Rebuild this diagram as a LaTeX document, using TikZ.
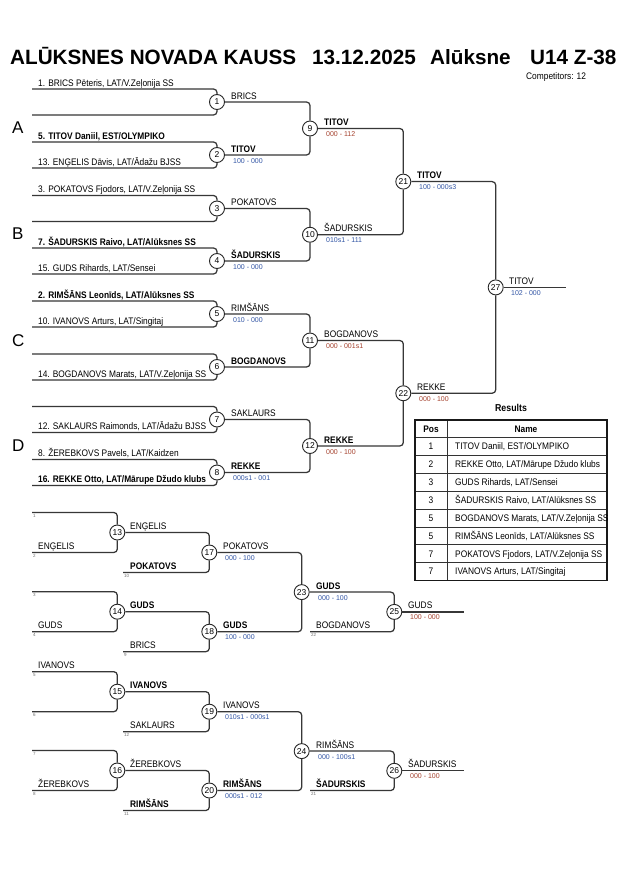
\documentclass[tikz,border=0pt]{standalone}
\usepackage{fontspec}
\setmainfont{Liberation Sans}
\newfontfamily\nf[FakeStretch=0.88]{Liberation Sans}
\definecolor{scblue}{RGB}{50,85,165}
\definecolor{scred}{RGB}{165,65,45}
\definecolor{lncol}{RGB}{55,55,55}
\tikzset{
  ln/.style={line width=1.25pt, draw=lncol, rounded corners=3.5pt},
  mc/.style={circle, draw=black!85, line width=0.9pt, fill=white, minimum size=15pt, inner sep=0pt, font=\fontsize{8.5}{8.5}\selectfont},
  nm/.style={anchor=base west, inner sep=0pt, font=\nf\fontsize{9.5}{10}\selectfont},
  nmb/.style={anchor=base west, inner sep=0pt, font=\nf\bfseries\fontsize{9.5}{10}\selectfont},
  sc/.style={anchor=base west, inner sep=0pt, font=\fontsize{7}{7.5}\selectfont},
  scb/.style={sc, text=scblue},
  scr/.style={sc, text=scred},
  tinyno/.style={anchor=north west, inner sep=0pt, font=\fontsize{4.5}{5}\selectfont, text=black!55},
  ttl/.style={anchor=base west, inner sep=0pt, font=\bfseries\fontsize{20.7}{22}\selectfont},
  pool/.style={anchor=base west, inner sep=0pt, font=\fontsize{17}{18}\selectfont},
  tbl/.style={anchor=base west, inner sep=0pt, font=\nf\fontsize{9.5}{10}\selectfont},
  tblc/.style={anchor=base, inner sep=0pt, font=\nf\fontsize{9.5}{10}\selectfont},
  tblh/.style={anchor=base, inner sep=0pt, font=\nf\bfseries\fontsize{9.5}{10}\selectfont},
}
\begin{document}
\begin{tikzpicture}[x=1pt,y=-1pt]
\useasboundingbox (0,0) rectangle (630,891);
\fill[white] (0,0) rectangle (630,891);

% ---------- title ----------
\node[ttl] (t1) at (10,64) {ALŪKSNES NOVADA KAUSS};
\node[ttl] (t2) at (312,64) {13.12.2025};
\node[ttl] (t3) at (430,64) {Alūksne};
\node[ttl] (t4) at (530,64) {U14 Z-38};
\node[anchor=base west, inner sep=0pt, font=\nf\fontsize{9.5}{10}\selectfont] (comp) at (526,79) {Competitors: 12};

% ---------- pools ----------
\node[pool] (pA) at (12,133.5) {A};
\node[pool] (pB) at (12,239) {B};
\node[pool] (pC) at (12,346) {C};
\node[pool] (pD) at (12,451) {D};

% ---------- main bracket circles ----------
\node[mc] (m1) at (217,102) {1};
\node[mc] (m2) at (217,155) {2};
\node[mc] (m3) at (217,208.5) {3};
\node[mc] (m4) at (217,261) {4};
\node[mc] (m5) at (217,314) {5};
\node[mc] (m6) at (217,367) {6};
\node[mc] (m7) at (217,419.5) {7};
\node[mc] (m8) at (217,472.5) {8};
\node[mc] (m9) at (310,128.5) {9};
\node[mc] (m10) at (310,234.75) {10};
\node[mc] (m11) at (310,340.5) {11};
\node[mc] (m12) at (310,446) {12};
\node[mc] (m21) at (403.3,181.6) {21};
\node[mc] (m22) at (403.3,393.25) {22};
\node[mc] (m27) at (495.7,287.4) {27};

% entry line starts
\coordinate (a1t) at (32,89);   \coordinate (a1b) at (32,115);
\coordinate (a2t) at (32,142);  \coordinate (a2b) at (32,168);
\coordinate (a3t) at (32,195.5);\coordinate (a3b) at (32,221.5);
\coordinate (a4t) at (32,248);  \coordinate (a4b) at (32,274);
\coordinate (a5t) at (32,301);  \coordinate (a5b) at (32,327);
\coordinate (a6t) at (32,354);  \coordinate (a6b) at (32,380);
\coordinate (a7t) at (32,406.5);\coordinate (a7b) at (32,432.5);
\coordinate (a8t) at (32,459.5);\coordinate (a8b) at (32,485.5);
\coordinate (e27) at (566,287.4);

\foreach \k in {1,...,8}{
  \draw[ln] (a\k t) -- (a\k t -| m\k) -- (m\k);
  \draw[ln] (a\k b) -- (a\k b -| m\k) -- (m\k);
}
\draw[ln] (m1) -- (m1 -| m9) -- (m9);
\draw[ln] (m2) -- (m2 -| m9) -- (m9);
\draw[ln] (m3) -- (m3 -| m10) -- (m10);
\draw[ln] (m4) -- (m4 -| m10) -- (m10);
\draw[ln] (m5) -- (m5 -| m11) -- (m11);
\draw[ln] (m6) -- (m6 -| m11) -- (m11);
\draw[ln] (m7) -- (m7 -| m12) -- (m12);
\draw[ln] (m8) -- (m8 -| m12) -- (m12);
\draw[ln] (m9) -- (m9 -| m21) -- (m21);
\draw[ln] (m10) -- (m10 -| m21) -- (m21);
\draw[ln] (m11) -- (m11 -| m22) -- (m22);
\draw[ln] (m12) -- (m12 -| m22) -- (m22);
\draw[ln] (m21) -- (m21 -| m27) -- (m27);
\draw[ln] (m22) -- (m22 -| m27) -- (m27);
\draw[ln] (m27) -- (e27);

% entry names
\node[nm]  (n1t) at (38,86)    {1. BRICS Pēteris, LAT/V.Zeļonija SS};
\node[nmb] (n2t) at (38,139)   {5. TITOV Daniil, EST/OLYMPIKO};
\node[nm]  (n2b) at (38,165)   {13. ENĢELIS Dāvis, LAT/Ādažu BJSS};
\node[nm]  (n3t) at (38,192.5) {3. POKATOVS Fjodors, LAT/V.Zeļonija SS};
\node[nmb] (n4t) at (38,245)   {7. ŠADURSKIS Raivo, LAT/Alūksnes SS};
\node[nm]  (n4b) at (38,271)   {15. GUDS Rihards, LAT/Sensei};
\node[nmb] (n5t) at (38,298)   {2. RIMŠĀNS Leonīds, LAT/Alūksnes SS};
\node[nm]  (n5b) at (38,324)   {10. IVANOVS Arturs, LAT/Singitaj};
\node[nm]  (n6b) at (38,377)   {14. BOGDANOVS Marats, LAT/V.Zeļonija SS};
\node[nm]  (n7b) at (38,429.5) {12. SAKLAURS Raimonds, LAT/Ādažu BJSS};
\node[nm]  (n8t) at (38,456.5) {8. ŽEREBKOVS Pavels, LAT/Kaidzen};
\node[nmb] (n8b) at (38,482.5) {16. REKKE Otto, LAT/Mārupe Džudo klubs};

% winners round 1
\node[nm]  (w1) at (231,99)    {BRICS};
\node[nmb] (w2) at (231,152)   {TITOV};
\node[scb] (s2) at (233,163)   {100 - 000};
\node[nm]  (w3) at (231,205.5) {POKATOVS};
\node[nmb] (w4) at (231,258)   {ŠADURSKIS};
\node[scb] (s4) at (233,269)   {100 - 000};
\node[nm]  (w5) at (231,311)   {RIMŠĀNS};
\node[scb] (s5) at (233,322)   {010 - 000};
\node[nmb] (w6) at (231,364)   {BOGDANOVS};
\node[nm]  (w7) at (231,416.5) {SAKLAURS};
\node[nmb] (w8) at (231,469.5) {REKKE};
\node[scb] (s8) at (233,480.5) {000s1 - 001};
% round 2
\node[nmb] (w9) at (324,125.5)  {TITOV};
\node[scr] (s9) at (326,136.5)  {000 - 112};
\node[nm]  (w10) at (324,231.75){ŠADURSKIS};
\node[scb] (s10) at (326,242.75){010s1 - 111};
\node[nm]  (w11) at (324,337.5) {BOGDANOVS};
\node[scr] (s11) at (326,348.5) {000 - 001s1};
\node[nmb] (w12) at (324,443)   {REKKE};
\node[scr] (s12) at (326,454)   {000 - 100};
% round 3
\node[nmb] (w21) at (417,178.6) {TITOV};
\node[scb] (s21) at (419,189.6) {100 - 000s3};
\node[nm]  (w22) at (417,390.25){REKKE};
\node[scr] (s22) at (419,401.25){000 - 100};
% final
\node[nm]  (w27) at (509,284.4) {TITOV};
\node[scb] (s27) at (511,295.4) {102 - 000};

% ---------- results table ----------
\node[anchor=base, inner sep=0pt, font=\nf\bfseries\fontsize{10}{11}\selectfont] (res) at (511,411) {Results};
\draw[line width=0.6pt, black!80] (447,420) -- (447,580.4);
\draw[line width=0.9pt, black!80] (415,437.5) -- (607,437.5);
\foreach \i in {1,...,7}{
  \draw[line width=0.6pt, black!80] (415,437.5+\i*17.86) -- (607,437.5+\i*17.86);
}
\draw[line width=1.5pt, black!90] (415,420) rectangle (607,580.4);
\node[tblh] (hp) at (431,432) {Pos};
\node[tblh] (hn) at (526,432) {Name};
\foreach \p/\t [count=\i] in {1/{TITOV Daniil, EST/OLYMPIKO},2/{REKKE Otto, LAT/Mārupe Džudo klubs},3/{GUDS Rihards, LAT/Sensei},3/{ŠADURSKIS Raivo, LAT/Alūksnes SS},5/{BOGDANOVS Marats, LAT/V.Zeļonija SS},5/{RIMŠĀNS Leonīds, LAT/Alūksnes SS},7/{POKATOVS Fjodors, LAT/V.Zeļonija SS},7/{IVANOVS Arturs, LAT/Singitaj}}{
  \node[tblc] (rp\i) at (431,437.5+\i*17.86-5.5) {\p};
  \node[tbl] (rn\i) at (455,437.5+\i*17.86-5.5) {\t};
}

% ---------- repechage ----------
\node[mc] (m13) at (117.3,532.5) {13};
\node[mc] (m14) at (117.3,611.7) {14};
\node[mc] (m17) at (209.3,552.5) {17};
\node[mc] (m18) at (209.3,631.7) {18};
\node[mc] (m23) at (301.7,592.1) {23};
\node[mc] (m25) at (394.3,611.9) {25};
\node[mc] (m15) at (117.3,691.7) {15};
\node[mc] (m16) at (117.3,770.5) {16};
\node[mc] (m19) at (209.3,711.7) {19};
\node[mc] (m20) at (209.3,790.5) {20};
\node[mc] (m24) at (301.7,751.1) {24};
\node[mc] (m26) at (394.3,770.8) {26};

\coordinate (r13t) at (32,512.5); \coordinate (r13b) at (32,552.5);
\coordinate (r17b) at (123,572.5);
\coordinate (r14t) at (32,591.7); \coordinate (r14b) at (32,631.7);
\coordinate (r18b) at (123,651.7);
\coordinate (r25b) at (310,631.7);
\coordinate (e25) at (464,611.9);
\coordinate (r15t) at (32,671.7); \coordinate (r15b) at (32,711.7);
\coordinate (r19b) at (123,731.7);
\coordinate (r16t) at (32,750.5); \coordinate (r16b) at (32,790.5);
\coordinate (r20b) at (123,810.5);
\coordinate (r26b) at (310,790.5);
\coordinate (e26) at (464,770.8);

\foreach \a/\m in {r13t/m13,r13b/m13,r17b/m17,r14t/m14,r14b/m14,r18b/m18,r25b/m25,r15t/m15,r15b/m15,r19b/m19,r16t/m16,r16b/m16,r20b/m20,r26b/m26}{
  \draw[ln] (\a) -- (\a -| \m) -- (\m);
}
\foreach \a/\m in {m13/m17,m14/m18,m17/m23,m18/m23,m23/m25,m15/m19,m16/m20,m19/m24,m20/m24,m24/m26}{
  \draw[ln] (\a) -- (\a -| \m) -- (\m);
}
\draw[ln] (m25) -- (e25);
\draw[ln] (m26) -- (e26);

% small loser-match numbers
\node[tinyno] (k1) at (33,514)  {1};
\node[tinyno] (k2) at (33,554)  {2};
\node[tinyno] (k10) at (124,574) {10};
\node[tinyno] (k3) at (33,593.2) {3};
\node[tinyno] (k4) at (33,633.2) {4};
\node[tinyno] (k9) at (124,653.2) {9};
\node[tinyno] (k22) at (311,633.2) {22};
\node[tinyno] (k5) at (33,673.2) {5};
\node[tinyno] (k6) at (33,713.2) {6};
\node[tinyno] (k12) at (124,733.2) {12};
\node[tinyno] (k7) at (33,752) {7};
\node[tinyno] (k8) at (33,792) {8};
\node[tinyno] (k11) at (124,812) {11};
\node[tinyno] (k21) at (311,792) {21};

% repechage names
\node[nm]  (q1) at (38,549.5)   {ENĢELIS};
\node[nm]  (q2) at (130,529.5)  {ENĢELIS};
\node[nmb] (q3) at (130,569.5)  {POKATOVS};
\node[nm]  (q4) at (223,549.5)  {POKATOVS};
\node[scb] (q4s) at (225,560.5) {000 - 100};
\node[nm]  (q5) at (38,628.7)   {GUDS};
\node[nmb] (q6) at (130,608.7)  {GUDS};
\node[nm]  (q7) at (130,648.7)  {BRICS};
\node[nmb] (q8) at (223,628.7)  {GUDS};
\node[scb] (q8s) at (225,639.7) {100 - 000};
\node[nmb] (q9) at (316,589.1)  {GUDS};
\node[scb] (q9s) at (318,600.1) {000 - 100};
\node[nm]  (q10) at (316,628.7) {BOGDANOVS};
\node[nm]  (q11) at (408,608.9) {GUDS};
\node[scr] (q11s) at (410,619.9){100 - 000};

\node[nm]  (p1) at (38,668.7)   {IVANOVS};
\node[nmb] (p2) at (130,688.7)  {IVANOVS};
\node[nm]  (p3) at (130,728.7)  {SAKLAURS};
\node[nm]  (p4) at (223,708.7)  {IVANOVS};
\node[scb] (p4s) at (225,719.7) {010s1 - 000s1};
\node[nm]  (p5) at (38,787.5)   {ŽEREBKOVS};
\node[nm]  (p6) at (130,767.5)  {ŽEREBKOVS};
\node[nmb] (p7) at (130,807.5)  {RIMŠĀNS};
\node[nmb] (p8) at (223,787.5)  {RIMŠĀNS};
\node[scb] (p8s) at (225,798.5) {000s1 - 012};
\node[nm]  (p9) at (316,748.1)  {RIMŠĀNS};
\node[scb] (p9s) at (318,759.1) {000 - 100s1};
\node[nmb] (p10) at (316,787.5) {ŠADURSKIS};
\node[nm]  (p11) at (408,767.8) {ŠADURSKIS};
\node[scr] (p11s) at (410,778.8){000 - 100};
\end{tikzpicture}
\end{document}
